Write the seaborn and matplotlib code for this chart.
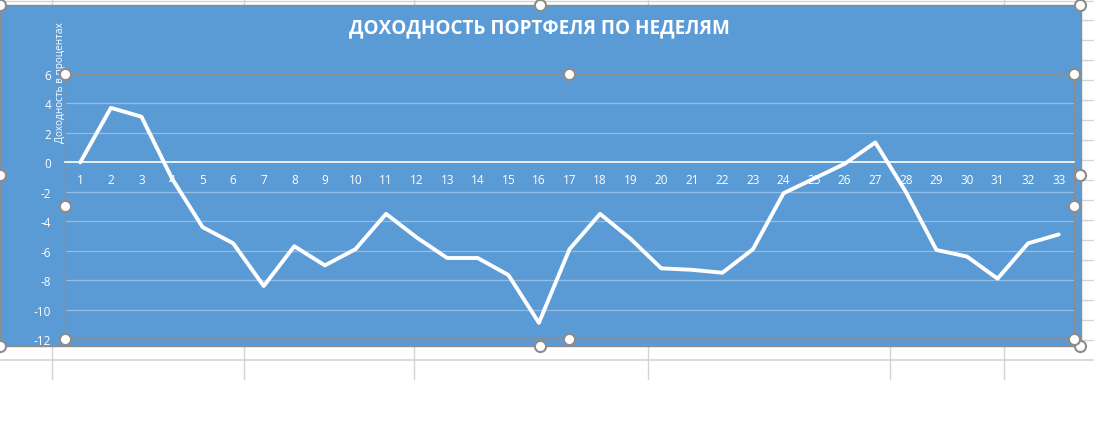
import numpy as np
import pandas as pd
import matplotlib
matplotlib.use("Agg")
import matplotlib.pyplot as plt
from matplotlib.lines import Line2D
from matplotlib.patches import Rectangle
import seaborn as sns

# ---- data ----
weeks = list(range(1, 34))
returns = [0.0, 3.7, 3.1, -1.1, -4.4, -5.5, -8.4, -5.7, -7.0, -5.9, -3.5,
           -5.1, -6.5, -6.5, -7.65, -10.9, -5.9, -3.5, -5.2, -7.2, -7.3, -7.5,
           -5.9, -2.1, -1.1, -0.1, 1.35, -2.0, -5.95, -6.4, -7.9, -5.5, -4.9]
y_ticks = [-12, -10, -8, -6, -4, -2, 0, 2, 4, 6]
title = "ДОХОДНОСТЬ ПОРТФЕЛЯ ПО НЕДЕЛЯМ"
y_label = "Доходность в процентах"

df = pd.DataFrame({"week": weeks, "ret": returns})

sns.set_style("white")
plt.rcParams['font.family'] = ['Open Sans', 'DejaVu Sans']

W, H = 1100, 435
fig = plt.figure(figsize=(11, 4.35), dpi=100)
fig.patch.set_facecolor("white")

def fx(px):
    return px / W

def fy(py):
    return 1 - py / H

# spreadsheet grid behind
grid_c = "#D4D4D4"
for x in [52, 244, 414, 648, 1004]:
    fig.add_artist(Line2D([fx(x), fx(x)], [fy(0), fy(6)], color=grid_c, lw=1,
                          transform=fig.transFigure, zorder=-2))
fig.add_artist(Line2D([0, fx(1093)], [fy(2), fy(2)], color=grid_c, lw=1,
                      transform=fig.transFigure, zorder=-2))
for x in [52, 244, 414, 648, 890, 1004]:
    fig.add_artist(Line2D([fx(x), fx(x)], [fy(347), fy(380)], color=grid_c, lw=1,
                          transform=fig.transFigure, zorder=-2))
fig.add_artist(Line2D([0, fx(1093)], [fy(361), fy(361)], color=grid_c, lw=1.2,
                      transform=fig.transFigure, zorder=-2))
for y in range(21, 350, 20):
    fig.add_artist(Line2D([fx(1082), fx(1093)], [fy(y), fy(y)], color=grid_c, lw=1,
                          transform=fig.transFigure, zorder=-2))

# chart area
fig.add_artist(Rectangle((0, fy(347)), fx(1081), fy(6) - fy(347), transform=fig.transFigure,
                         facecolor="#5B9BD5", edgecolor="#8C8C8C", lw=1, zorder=-1))

ax = fig.add_axes([fx(65), fy(340), fx(1074) - fx(65), fy(75) - fy(340)])
ax.patch.set_alpha(0)

sns.lineplot(data=df, x="week", y="ret", ax=ax, color="white", linewidth=2.8, zorder=5)

for s in ["top", "left", "right"]:
    ax.spines[s].set_color("#8C8C8C")
    ax.spines[s].set_linewidth(1)
ax.spines["bottom"].set_position(("data", 0))
ax.spines["bottom"].set_color("white")
ax.spines["bottom"].set_linewidth(1.2)

ax.set_xlim(0.5, 33.5)
ax.set_ylim(-12, 6)
ax.set_yticks(y_ticks)
ax.set_yticklabels([str(v) for v in y_ticks], fontsize=8.5)
ax.set_xticks(weeks)
ax.set_xticklabels([str(w) for w in weeks], fontsize=8.5)
ax.tick_params(axis="both", length=0, labelcolor="white")
ax.tick_params(axis="x", pad=8)
ax.tick_params(axis="y", pad=10)

for v in y_ticks:
    if v != 0:
        ax.axhline(v, color="#93BDE6", lw=0.9, zorder=1)

ax.add_line(Line2D([0, 1], [0, 0], transform=ax.transAxes, color="#8C8C8C", lw=1.2, clip_on=False))
ax.set_xlabel("")
ax.set_ylabel("")

fig.text(fx(60), fy(83), y_label, rotation=90, color="white", fontsize=7.2,
         ha="center", va="center")
fig.text(fx(539), fy(28), title, color="white", fontsize=13.6, fontweight="bold",
         ha="center", va="center")

# selection handles
hx = [0, 540, 1080, 0, 1080, 0, 540, 1080]
hy = [6, 6, 6, 176, 176, 347, 347, 347]
px_ = [65, 569, 1074, 65, 1074, 65, 569, 1074]
py_ = [75, 75, 75, 207, 207, 340, 340, 340]
for xs, ys in [(hx, hy), (px_, py_)]:
    fig.add_artist(Line2D([fx(x) for x in xs], [fy(y) for y in ys], linestyle="none",
                          marker="o", markersize=8, markerfacecolor="white",
                          markeredgecolor="#8C8C8C", markeredgewidth=1.5,
                          transform=fig.transFigure, zorder=10))

fig.savefig("out.png", dpi=100)
